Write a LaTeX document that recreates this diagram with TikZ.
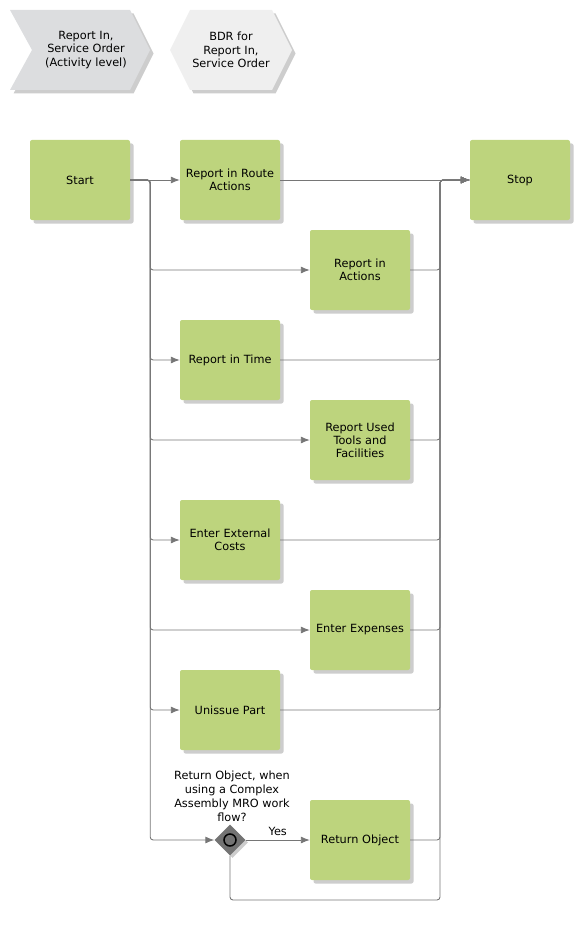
\documentclass[tikz,border=0pt]{standalone}
\usepackage{fontspec}
\setmainfont{DejaVu Sans}
\usetikzlibrary{arrows.meta,shapes.geometric,shadows,calc}
\definecolor{boxgreen}{HTML}{BDD47D}
\definecolor{linegray}{HTML}{767676}
\definecolor{chev}{HTML}{DCDDDF}
\definecolor{hexa}{HTML}{EFEFEF}
\definecolor{shad}{HTML}{CDCDCD}
\definecolor{gwfill}{HTML}{737373}
\tikzset{
  txt/.style={font=\fontsize{11.3}{13}\selectfont, align=center},
  box/.style={txt, rectangle, rounded corners=2pt, fill=boxgreen, minimum width=100pt, minimum height=80pt, text width=94pt, inner xsep=3pt,
    drop shadow={shadow xshift=3.5pt, shadow yshift=-3.5pt, fill=shad, opacity=1}},
  conn/.style={draw=linegray, line width=0.9pt, rounded corners=3pt},
  arr/.style={conn, -{Latex[length=9pt,width=7pt]}},
}
\begin{document}
\begin{tikzpicture}[x=1pt,y=-1pt]
\useasboundingbox (0,0) rectangle (580,928);
% header shapes
\fill[shad] (13.5,13.5) -- (133.5,13.5) -- (153.5,53.5) -- (133.5,93.5) -- (13.5,93.5) -- (35.5,53.5) -- cycle;
\fill[chev] (10,10) -- (130,10) -- (150,50) -- (130,90) -- (10,90) -- (32,50) -- cycle;
\node[txt, font=\fontsize{11.3}{13.5}\selectfont] (h1) at (86,50) {Report In,\\Service Order\\(Activity level)};
\fill[shad] (173.5,53.5) -- (193.5,13.5) -- (275.5,13.5) -- (295.5,53.5) -- (275.5,93.5) -- (193.5,93.5) -- cycle;
\fill[hexa] (170,50) -- (190,10) -- (272,10) -- (292,50) -- (272,90) -- (190,90) -- cycle;
\node[txt, font=\fontsize{11.3}{13.5}\selectfont] (h2) at (231,50) {BDR for\\Report In,\\Service Order};
% boxes
\node[box] (start) at (80,180) {Start};
\node[box] (rra) at (230,180) {Report in Route\\Actions};
\node[box] (stop) at (520,180) {Stop};
\node[box] (ra) at (360,270) {Report in\\Actions};
\node[box] (rt) at (230,360) {Report in Time};
\node[box] (rut) at (360,440) {Report Used\\Tools and\\Facilities};
\node[box] (eec) at (230,540) {Enter External\\Costs};
\node[box] (ee) at (360,630) {Enter Expenses};
\node[box] (up) at (230,710) {Unissue Part};
\node[box] (ro) at (360,840) {Return Object};
% gateway
\node[diamond, minimum width=31pt, minimum height=31pt, inner sep=0pt, fill=gwfill,
  drop shadow={shadow xshift=2.5pt, shadow yshift=-2.5pt, fill=shad, opacity=1}] (gw) at (230,840) {};
\draw[line width=1.5pt, fill=gwfill] (gw.center) circle (6pt);
\node[txt, font=\fontsize{11.3}{14}\selectfont] (gwl) at (232,796) {Return Object, when\\using a Complex\\Assembly MRO work\\flow?};
% coordinates
\coordinate (m) at (440,180);
\coordinate (mb) at (440,900);
% splits
\draw[arr] (start) -- (rra);
\draw[arr] (start.east) -- ++(20,0) |- (ra.west);
\draw[arr] (start.east) -- ++(20,0) |- (rt.west);
\draw[arr] (start.east) -- ++(20,0) |- (rut.west);
\draw[arr] (start.east) -- ++(20,0) |- (eec.west);
\draw[arr] (start.east) -- ++(20,0) |- (ee.west);
\draw[arr] (start.east) -- ++(20,0) |- (up.west);
\draw[arr] (start.east) -- ++(20,0) |- (gw.west);
\draw[arr] (gw.east) -- node[txt, above=1pt] {Yes} (ro.west);
% merges
\draw[arr] (rra) -- (stop);
\draw[arr] (ra.east) -| (m) -- (stop.west);
\draw[arr] (rt.east) -| (m) -- (stop.west);
\draw[arr] (rut.east) -| (m) -- (stop.west);
\draw[arr] (eec.east) -| (m) -- (stop.west);
\draw[arr] (ee.east) -| (m) -- (stop.west);
\draw[arr] (up.east) -| (m) -- (stop.west);
\draw[arr] (ro.east) -| (m) -- (stop.west);
\draw[arr] (gw.south) |- (mb) -- (m) -- (stop.west);
\end{tikzpicture}
\end{document}
